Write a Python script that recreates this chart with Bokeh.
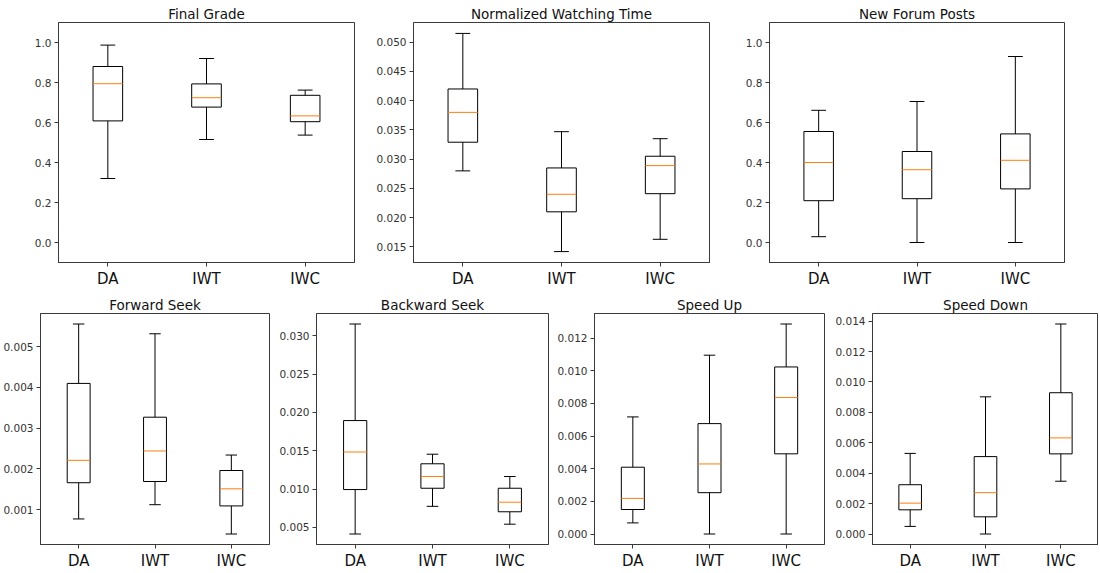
from bokeh.plotting import figure
from bokeh.layouts import column, row
from bokeh.models import Range1d, FixedTicker, PrintfTickFormatter, ColumnDataSource
from bokeh.embed import file_html
from bokeh.resources import INLINE

groups = ["DA", "IWT", "IWC"]
positions = [1, 2, 3]

# each entry: (lower whisker, Q1, median, Q3, upper whisker) for DA, IWT, IWC
final_grade = [(0.320, 0.608, 0.794, 0.880, 0.987),
               (0.515, 0.677, 0.724, 0.793, 0.920),
               (0.537, 0.604, 0.633, 0.736, 0.762)]
watching_time = [(0.0280, 0.0329, 0.0380, 0.0420, 0.0515),
                 (0.0142, 0.0210, 0.0240, 0.0285, 0.0347),
                 (0.0163, 0.0241, 0.0289, 0.0305, 0.0335)]
forum_posts = [(0.029, 0.209, 0.400, 0.555, 0.661),
               (0.000, 0.219, 0.364, 0.455, 0.705),
               (0.000, 0.268, 0.411, 0.543, 0.930)]
forward_seek = [(0.00077, 0.00166, 0.00221, 0.00410, 0.00556),
                (0.00112, 0.00169, 0.00244, 0.00327, 0.00532),
                (0.00040, 0.00109, 0.00151, 0.00196, 0.00234)]
backward_seek = [(0.00413, 0.00993, 0.01483, 0.01893, 0.03153),
                 (0.00774, 0.01010, 0.01163, 0.01329, 0.01454),
                 (0.00541, 0.00703, 0.00828, 0.01010, 0.01163)]
speed_up = [(0.00068, 0.00150, 0.00218, 0.00409, 0.00717),
            (0.00000, 0.00253, 0.00429, 0.00676, 0.01095),
            (0.00000, 0.00491, 0.00836, 0.01023, 0.01286)]
speed_down = [(0.00050, 0.00159, 0.00203, 0.00324, 0.00530),
              (0.00000, 0.00113, 0.00272, 0.00509, 0.00902),
              (0.00347, 0.00527, 0.00632, 0.00929, 0.01381)]

unit_ticks = [0.0, 0.2, 0.4, 0.6, 0.8, 1.0]
watch_ticks = [0.015, 0.020, 0.025, 0.030, 0.035, 0.040, 0.045, 0.050]
fwd_ticks = [0.001, 0.002, 0.003, 0.004, 0.005]
bwd_ticks = [0.005, 0.010, 0.015, 0.020, 0.025, 0.030]
up_ticks = [0.000, 0.002, 0.004, 0.006, 0.008, 0.010, 0.012]
down_ticks = [0.000, 0.002, 0.004, 0.006, 0.008, 0.010, 0.012, 0.014]

FONT = "DejaVu Sans"
FRAME = "#3a3a3a"
BOX_W = 0.3
CAP_W = 0.15


def panel(title, stats, ticks, fmt, yr, fw, fh, bl, br, bt, bb):
    lo = [s[0] for s in stats]
    q1 = [s[1] for s in stats]
    med = [s[2] for s in stats]
    q3 = [s[3] for s in stats]
    hi = [s[4] for s in stats]
    if yr is None:
        mn, mx = min(lo), max(hi)
        pad = (mx - mn) * 0.05
        yr = (mn - pad, mx + pad)
    p = figure(width=fw + bl + br, height=fh + bt + bb,
               x_range=Range1d(0.5, 3.5), y_range=Range1d(*yr),
               output_backend="svg", toolbar_location=None,
               min_border_left=bl, min_border_right=br,
               min_border_top=bt, min_border_bottom=bb,
               title=title)
    src = ColumnDataSource(dict(x=positions, lo=lo, q1=q1, med=med, q3=q3, hi=hi,
                                cl=[x - CAP_W / 2 for x in positions],
                                cr=[x + CAP_W / 2 for x in positions],
                                bl=[x - BOX_W / 2 for x in positions],
                                br=[x + BOX_W / 2 for x in positions]))
    p.segment("x", "q3", "x", "hi", source=src, line_color="black", line_width=1)
    p.segment("x", "q1", "x", "lo", source=src, line_color="black", line_width=1)
    p.segment("cl", "hi", "cr", "hi", source=src, line_color="black", line_width=1)
    p.segment("cl", "lo", "cr", "lo", source=src, line_color="black", line_width=1)
    p.quad(left="bl", right="br", bottom="q1", top="q3", source=src,
           fill_color=None, line_color="black", line_width=1)
    p.segment("bl", "med", "br", "med", source=src, line_color="#ff7f0e", line_width=1)

    p.title.align = "center"
    p.title.text_font = FONT
    p.title.text_font_size = "13.5px"
    p.title.text_font_style = "normal"
    p.title.text_color = "#111111"
    p.title.standoff = 2
    p.title.offset = 0

    p.xgrid.visible = False
    p.ygrid.visible = False
    p.outline_line_color = FRAME
    p.outline_line_alpha = 1
    p.outline_line_width = 1

    p.xaxis.ticker = FixedTicker(ticks=positions)
    p.xaxis.major_label_overrides = {pos: g for pos, g in zip(positions, groups)}
    p.xaxis.major_label_text_font = FONT
    p.xaxis.major_label_text_font_size = "15px"
    p.xaxis.major_label_text_color = "#111111"
    p.xaxis.major_label_standoff = 3
    p.xaxis.minor_tick_line_color = None
    p.xaxis.major_tick_out = 4
    p.xaxis.major_tick_in = 0
    p.xaxis.axis_line_color = FRAME
    p.xaxis.major_tick_line_color = FRAME

    p.yaxis.ticker = FixedTicker(ticks=ticks)
    p.yaxis.formatter = PrintfTickFormatter(format=fmt)
    p.yaxis.major_label_text_font = FONT
    p.yaxis.major_label_text_font_size = "10.5px"
    p.yaxis.major_label_text_color = "#333333"
    p.yaxis.major_label_standoff = 3
    p.yaxis.minor_tick_line_color = None
    p.yaxis.major_tick_out = 4
    p.yaxis.major_tick_in = 0
    p.yaxis.axis_line_color = FRAME
    p.yaxis.major_tick_line_color = FRAME
    return p


T_TOP, T_BOT = 22, 23
p1 = panel("Final Grade", final_grade, unit_ticks, "%.1f", (-0.1, 1.1), 296, 245, 58, 5, T_TOP, T_BOT)
p2 = panel("Normalized Watching Time", watching_time, watch_ticks, "%.3f", None, 296, 245, 54, 5, T_TOP, T_BOT)
p3 = panel("New Forum Posts", forum_posts, unit_ticks, "%.1f", (-0.1, 1.1), 295, 245, 55, 20, T_TOP, T_BOT)

B_TOP, B_BOT = 23, 17
p4 = panel("Forward Seek", forward_seek, fwd_ticks, "%.3f", None, 231, 242, 38, 5, B_TOP, B_BOT)
p5 = panel("Backward Seek", backward_seek, bwd_ticks, "%.3f", None, 232, 242, 42, 5, B_TOP, B_BOT)
p6 = panel("Speed Up", speed_up, up_ticks, "%.3f", None, 230, 242, 41, 5, B_TOP, B_BOT)
p7 = panel("Speed Down", speed_down, down_ticks, "%.3f", None, 226, 242, 43, 0, B_TOP, B_BOT)

layout = column(row(p1, p2, p3, spacing=0), row(p4, p5, p6, p7, spacing=0), spacing=0)

open("out.html", "w").write(file_html(layout, INLINE))
